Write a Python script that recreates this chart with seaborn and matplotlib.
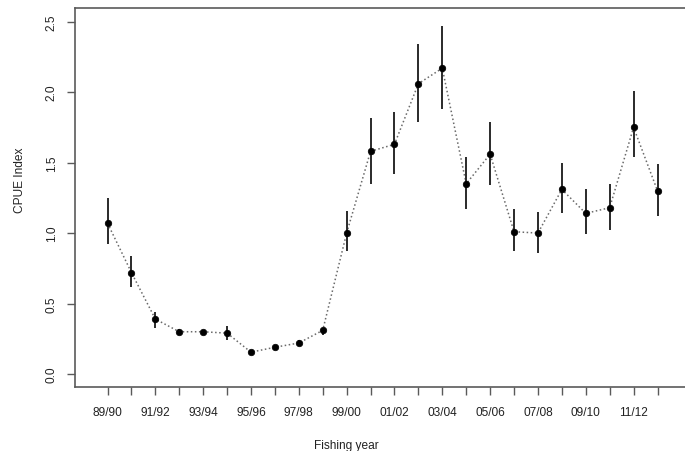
import numpy as np
import pandas as pd
import matplotlib
matplotlib.use("Agg")
import matplotlib.pyplot as plt
import seaborn as sns

# Standardised CPUE index by fishing year, with confidence bounds
years = ["89/90", "90/91", "91/92", "92/93", "93/94", "94/95", "95/96", "96/97",
         "97/98", "98/99", "99/00", "00/01", "01/02", "02/03", "03/04", "04/05",
         "05/06", "06/07", "07/08", "08/09", "09/10", "10/11", "11/12", "12/13"]
cpue = [1.07, 0.72, 0.39, 0.30, 0.30, 0.29, 0.155, 0.19, 0.22, 0.31, 1.00, 1.58,
        1.63, 2.06, 2.17, 1.35, 1.56, 1.01, 1.00, 1.31, 1.14, 1.18, 1.75, 1.30]
lower = [0.92, 0.62, 0.33, 0.28, 0.28, 0.245, 0.14, 0.175, 0.20, 0.28, 0.87, 1.35,
         1.42, 1.79, 1.88, 1.17, 1.34, 0.87, 0.86, 1.14, 0.99, 1.02, 1.54, 1.12]
upper = [1.25, 0.84, 0.44, 0.32, 0.31, 0.34, 0.165, 0.205, 0.24, 0.33, 1.16, 1.82,
         1.86, 2.34, 2.47, 1.54, 1.79, 1.17, 1.15, 1.50, 1.31, 1.35, 2.01, 1.49]
y_ticks = [0.0, 0.5, 1.0, 1.5, 2.0, 2.5]

df = pd.DataFrame({"idx": np.arange(len(years)), "year": years,
                   "cpue": cpue, "lower": lower, "upper": upper})

sns.set_theme(style="white")
plt.rcParams["font.family"] = ["Liberation Sans", "DejaVu Sans"]

W, H = 685, 452
fig = plt.figure(figsize=(W / 100, H / 100), dpi=100)
ax = fig.add_axes([75 / W, (H - 388) / H, (685 - 75) / W, (388 - 9) / H])

axis_col = "#5a5a5a"

# connecting dotted line, confidence bars, point estimates
sns.lineplot(data=df, x="idx", y="cpue", ax=ax, color="#6a6a6a",
             linestyle=":", linewidth=1.1, sort=False, zorder=2)
ax.vlines(df["idx"], df["lower"], df["upper"], color="#2a2a2a",
          linewidth=1.4, zorder=3)
sns.scatterplot(data=df, x="idx", y="cpue", ax=ax, color="black", s=22,
                edgecolor="black", linewidth=0.5, zorder=4)

ax.set_xlim(-1.36, 24.15)
ax.set_ylim(-0.092, 2.597)

ax.set_xticks(df["idx"])
ax.set_xticklabels([y if i % 2 == 0 else "" for i, y in enumerate(years)])
ax.set_yticks(y_ticks)
ax.set_yticklabels([f"{v:.1f}" for v in y_ticks], rotation=90, va="center")

ax.tick_params(axis="both", which="both", direction="out", length=5.5,
               width=1.0, color=axis_col, labelsize=8.6, labelcolor="#222222",
               bottom=True, left=True)
ax.tick_params(axis="x", pad=8)
ax.tick_params(axis="y", pad=7)

for side in ["left", "bottom", "top"]:
    ax.spines[side].set_color(axis_col)
    ax.spines[side].set_linewidth(1.2)
ax.spines["right"].set_visible(False)

ax.set_xlabel("Fishing year", fontsize=8.6, color="#222222", va="center")
ax.set_ylabel("CPUE Index", fontsize=8.6, color="#222222", va="center")
ax.xaxis.set_label_coords((346 - 75) / 610, (388 - 446) / 379)
ax.yaxis.set_label_coords((20 - 75) / 610, (388 - 180) / 379)

fig.savefig("out.png", dpi=100, facecolor="white")
